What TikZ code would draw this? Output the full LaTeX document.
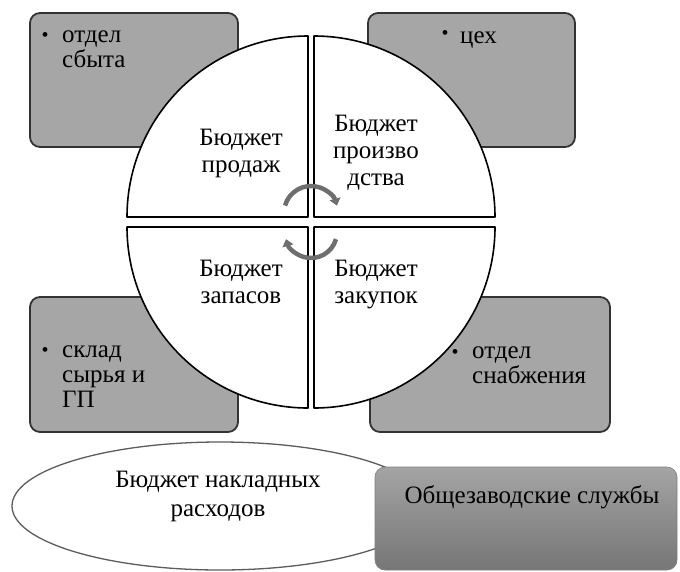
\documentclass[tikz,border=0pt]{standalone}
\usepackage{fontspec}
\setmainfont{Liberation Serif}
\newfontfamily\budgetfont{Liberation Serif}
\usetikzlibrary{arrows.meta,shapes.geometric}
\definecolor{unitfill}{HTML}{A6A6A6}
\definecolor{unitedge}{HTML}{333333}
\definecolor{cyclegray}{HTML}{6E6E6E}
\definecolor{ovaledge}{HTML}{5C5C5C}
\definecolor{topgray}{HTML}{A4A4A4}
\definecolor{botgray}{HTML}{767676}
\tikzset{
  unit/.style={draw=unitedge, fill=unitfill, line width=1.8pt, rounded corners=10pt, inner sep=0pt},
  quad/.style={draw=black, fill=white, line width=1.6pt, line join=round},
  cyc/.style={draw=cyclegray, line width=4.5pt, -{Triangle[length=7pt,width=11pt]}},
  lab/.style={font=\budgetfont\fontsize{25}{27}\selectfont, align=center, inner sep=0pt,
    execute at begin node=\strut, execute at end node=\strut},
  unitlab/.style={font=\budgetfont\fontsize{25}{25}\selectfont, align=left, anchor=west, inner sep=0pt,
    execute at begin node=\strut, execute at end node=\strut},
  bul/.style={font=\budgetfont\fontsize{20}{20}\selectfont, inner sep=0pt},
  oval/.style={ellipse, draw=ovaledge, fill=white, line width=1.3pt, inner sep=0pt,
    minimum width=416pt, minimum height=128pt},
  dept/.style={draw=gray, top color=topgray, bottom color=botgray, rounded corners=10pt,
    line width=0.6pt, inner sep=0pt},
}

\begin{document}
\begin{tikzpicture}[x=1pt,y=-1pt]
  \useasboundingbox (0,0) rectangle (680,571);
  \def\R{181}
  % units behind the circle
  \node[unit, minimum width=208pt, minimum height=134pt] (sales) at (134,80) {};
  \node[unit, minimum width=207pt, minimum height=134pt] (shop) at (471.5,80) {};
  \node[unit, minimum width=208pt, minimum height=135pt] (store) at (134,364.5) {};
  \node[unit, minimum width=240pt, minimum height=135pt] (supply) at (490,364.5) {};
  \node[bul] (bsales) at (45,37) {•};
  \node[unitlab] (tsales) at (62,53) {отдел\\сбыта};
  \node[bul] (bshop) at (445,35) {•};
  \node[unitlab] (tshop) at (460,38) {цех};
  \node[bul] (bstore) at (45,352) {•};
  \node[unitlab] (tstore) at (62,380) {склад\\сырья и\\ГП};
  \node[bul] (bsupply) at (455,354) {•};
  \node[unitlab] (tsupply) at (472,368.5) {отдел\\снабжения};
  % four budget quarters
  \foreach \cx/\cy/\a in {308/217/180, 314/217/270, 314/227/0, 308/227/90}
    \draw[quad] (\cx,\cy) -- ++(\a:\R) arc[start angle=\a, delta angle=90, radius=\R] -- cycle;
  \node[lab] (qsales) at (241,155) {Бюджет\\продаж};
  \node[lab] (qprod) at (376,154) {Бюджет\\произво\\дства};
  \node[lab] (qstock) at (241,286) {Бюджет\\запасов};
  \node[lab] (qbuy) at (376,286) {Бюджет\\закупок};
  \coordinate (ctop) at (311,213);
  \coordinate (cbot) at (311,232);
  \draw[cyc] (ctop) ++(196:27) arc[start angle=196, end angle=344, radius=27];
  \draw[cyc] (cbot) ++(16:26) arc[start angle=16, end angle=164, radius=26];
  % overheads
  \node[oval] (over) at (220,506) {};
  \node[lab, font=\budgetfont\fontsize{25}{29}\selectfont] (tover) at (218,498.5) {Бюджет накладных\\расходов};
  \node[dept, minimum width=302pt, minimum height=103pt] (plant) at (526,518.5) {};
  \node[lab] (tplant) at (532,498) {Общезаводские службы};
\end{tikzpicture}
\end{document}
